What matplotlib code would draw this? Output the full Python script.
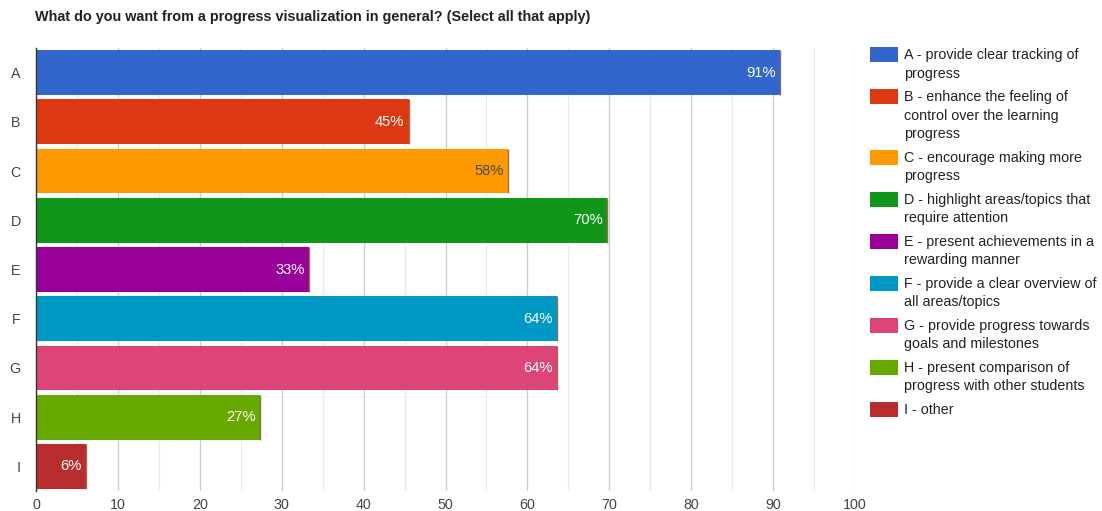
import matplotlib
matplotlib.use("Agg")
import matplotlib.pyplot as plt
from matplotlib.patches import Rectangle

categories = ["A", "B", "C", "D", "E", "F", "G", "H", "I"]
values = [90.9, 45.5, 57.6, 69.7, 33.3, 63.6, 63.6, 27.3, 6.1]
value_labels = ["91%", "45%", "58%", "70%", "33%", "64%", "64%", "27%", "6%"]
legend_labels = [
    "A - provide clear tracking of\nprogress",
    "B - enhance the feeling of\ncontrol over the learning\nprogress",
    "C - encourage making more\nprogress",
    "D - highlight areas/topics that\nrequire attention",
    "E - present achievements in a\nrewarding manner",
    "F - provide a clear overview of\nall areas/topics",
    "G - provide progress towards\ngoals and milestones",
    "H - present comparison of\nprogress with other students",
    "I - other",
]
colors = ["#3366cc", "#dc3912", "#ff9900", "#109618", "#990099",
          "#0099c6", "#dd4477", "#66aa00", "#b82e2e"]
label_colors = ["white", "white", "#4a4a4a", "white", "white",
                "white", "white", "white", "white"]
title = "What do you want from a progress visualization in general? (Select all that apply)"
xticks = [0, 10, 20, 30, 40, 50, 60, 70, 80, 90, 100]

plt.rcParams['font.family'] = ['Liberation Sans', 'DejaVu Sans']

W, H = 1102, 511
fig = plt.figure(figsize=(W / 100, H / 100), dpi=100)
ax = fig.add_axes([36 / W, 1 - 491 / H, (855 - 36) / W, (491 - 48) / H])

ypos = list(range(len(categories)))
bar_h = 0.91
ax.barh(ypos, values, height=bar_h, color=colors, zorder=3)
ax.vlines(values, [y - bar_h / 2 for y in ypos], [y + bar_h / 2 for y in ypos],
          color="#9a6a4a", linewidth=1, zorder=3.5)
ax.set_ylim(len(categories) - 0.5, -0.5)
ax.set_xlim(0, 100)

for y, v, lab, c in zip(ypos, values, value_labels, label_colors):
    ax.annotate(lab, xy=(v, y), xytext=(-3, 0), textcoords="offset points",
                ha="right", va="center", color=c, fontsize=10.6, zorder=4)

ax.set_xticks(xticks)
ax.set_xticks([x + 5 for x in xticks[:-1]], minor=True)
ax.grid(axis="x", which="major", color="#cccccc", linewidth=1, zorder=0)
ax.grid(axis="x", which="minor", color="#ebebeb", linewidth=1, zorder=0)
ax.set_yticks(ypos)
ax.set_yticklabels(categories)
ax.tick_params(axis="both", which="both", length=0, labelsize=10.3, labelcolor="#444444")
ax.tick_params(axis="y", pad=11)
ax.tick_params(axis="x", pad=5)
for s in ["top", "right", "bottom"]:
    ax.spines[s].set_visible(False)
ax.spines["left"].set_color("#333333")
ax.spines["left"].set_linewidth(1)
ax.spines["left"].set_zorder(5)

fig.text(35 / W, 1 - 17 / H, title, fontsize=10.4, fontweight="bold",
         color="#222222", ha="left", va="center")

# legend
y = 55.0
line_h = 18.7
gap = 4.6
for lab, c in zip(legend_labels, colors):
    fig.patches.append(Rectangle((870 / W, 1 - (y + 7.5) / H), 28 / W, 15 / H,
                                 transform=fig.transFigure, facecolor=c,
                                 edgecolor="none"))
    for i, line in enumerate(lab.split("\n")):
        fig.text(904 / W, 1 - (y + i * line_h) / H, line, fontsize=10.3,
                 color="#222222", ha="left", va="center")
    y += line_h * len(lab.split("\n")) + gap

fig.savefig("out.png", dpi=100)
